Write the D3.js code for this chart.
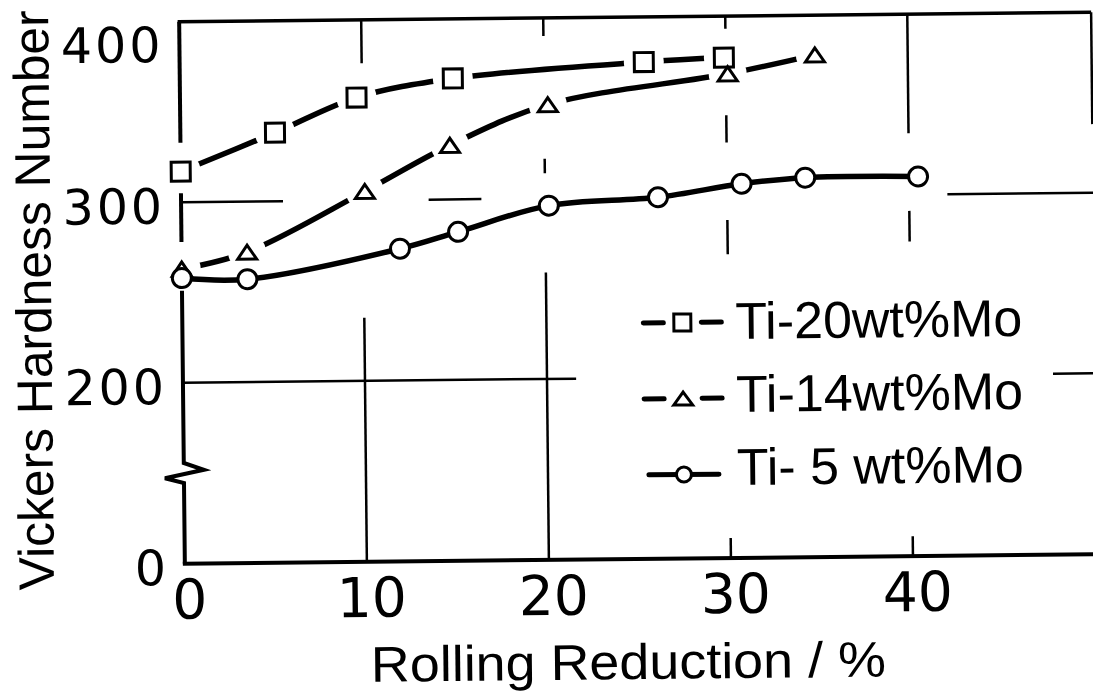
<!DOCTYPE html>
<html><head><meta charset="utf-8">
<script src="https://cdn.jsdelivr.net/npm/d3@7"></script>
<style>body{margin:0;background:#fff} svg{display:block}</style>
</head><body><svg id="c" width="1093" height="693"></svg>
<script>
// ---- data ----
const ti20X = [0, 5.2, 9.7, 15.0, 25.5, 29.9];
const ti20Y = [317, 338, 357, 367, 375, 377];
const ti14X = [0, 3.6, 10.1, 14.8, 20.2, 30.1, 34.9];
const ti14Y = [263, 272, 305, 330, 352, 368, 378];
const ti5X  = [0, 3.6, 12.0, 15.2, 20.2, 26.2, 30.8, 34.3, 40.5];
const ti5Y  = [258, 257, 273, 282, 296, 300, 307, 310, 310];
const seriesNames = ["Ti-20wt%Mo", "Ti-14wt%Mo", "Ti- 5 wt%Mo"];
const xTicks = [0, 10, 20, 30, 40];
const yTicks = [0, 200, 300, 400];
const xTitle = "Rolling Reduction / %";
const yTitle = "Vickers Hardness Number";
// grid lines as they survive in the figure (partly erased): [yValue, xFrom, xTo]
const hGrid = [[300,0,5.6],[300,13.6,16.5],[300,42.1,50.1],[200,0,21.6],[200,47.8,50.1]];
// [xValue, yFrom, yTo]
const vGrid = [[10,400,376],[10,235,0],[20,400,390],[20,322,314],[20,259,0],
               [30,400,393],[30,345,330],[30,287,268],[30,33,0],
               [40,400,334],[40,291,274],[40,33,0],[50.1,400,338]];
const yAxisSegs = [[400,333],[305,278]];
const yAxisLowTop = 251;
const yBreak = 150;
const xMax = 50.1;

// ---- scales ----
const svg = d3.select("#c");
svg.append("rect").attr("width",1093).attr("height",693).attr("fill","#fff");
const x = d3.scaleLinear().domain([0, xMax]).range([182, 1094]);
const y = d3.scaleLinear().domain([0, yBreak, 400]).range([559, 468.25, 17]);

const g = svg.append("g").attr("transform","rotate(-0.6,636,290)");
const FONT = "'Liberation Sans', Arial, sans-serif";

// grid
g.selectAll(".hg").data(hGrid).join("line")
  .attr("x1",d=>x(d[1])).attr("x2",d=>x(d[2]))
  .attr("y1",d=>y(d[0])).attr("y2",d=>y(d[0]))
  .attr("stroke","#000").attr("stroke-width",2.5);
g.selectAll(".vg").data(vGrid).join("line")
  .attr("x1",d=>x(d[0])).attr("x2",d=>x(d[0]))
  .attr("y1",d=>y(d[1])).attr("y2",d=>y(d[2]))
  .attr("stroke","#000").attr("stroke-width",2.5);

// frame top & bottom axis
g.append("line").attr("x1",x(0)-1.5).attr("x2",x(xMax)).attr("y1",y(400)).attr("y2",y(400))
  .attr("stroke","#000").attr("stroke-width",3.5);
g.append("line").attr("x1",x(0)-2).attr("x2",x(xMax)+2).attr("y1",y(0)).attr("y2",y(0))
  .attr("stroke","#000").attr("stroke-width",4);
// y axis with break
g.selectAll(".ya").data(yAxisSegs).join("line")
  .attr("x1",x(0)).attr("x2",x(0)).attr("y1",d=>y(d[0])).attr("y2",d=>y(d[1]))
  .attr("stroke","#000").attr("stroke-width",4);
const yb = y(yBreak), x0 = x(0);
g.append("path")
  .attr("d",`M${x0},${y(yAxisLowTop)} L${x0},${yb-10} L${x0+20},${yb-3} L${x0-19},${yb+5} L${x0},${yb+10} L${x0},${y(0)}`)
  .attr("fill","none").attr("stroke","#000").attr("stroke-width",4).attr("stroke-linejoin","miter");

// axes labels through d3 axes
const ax = g.append("g").attr("transform",`translate(0,${y(0)})`)
  .call(d3.axisBottom(x).tickValues(xTicks).tickSize(0).tickFormat(d3.format("d")));
ax.select(".domain").remove();
ax.selectAll("text").attr("y",55).attr("dy",0).attr("x",4)
  .attr("font-family","'DejaVu Sans', sans-serif").attr("font-size",55).attr("fill","#000");

const ay = g.append("g").attr("transform",`translate(${x(0)-16},0)`)
  .call(d3.axisLeft(y).tickValues(yTicks).tickSize(0).tickPadding(0).tickFormat(d3.format("d")));
ay.select(".domain").remove();
ay.selectAll("text").attr("x",0).attr("dy","0.36em").attr("y",d=> d===400 ? 22 : 3)
  .attr("font-family","'DejaVu Sans', sans-serif").attr("font-size",49)
  .attr("letter-spacing",3).attr("fill","#000");

// titles
g.append("text").attr("x",367).attr("y",y(0)+120).text(xTitle)
  .attr("font-family",FONT).attr("font-size",50).attr("textLength",515)
  .attr("lengthAdjust","spacingAndGlyphs").attr("fill","#000");
g.append("text").attr("transform","translate(51,294) rotate(-90)").attr("text-anchor","middle")
  .text(yTitle).attr("font-family",FONT).attr("font-size",50).attr("textLength",580)
  .attr("lengthAdjust","spacingAndGlyphs").attr("fill","#000");

// series
const pts = (xs, ys) => xs.map((v,i)=>[v, ys[i]]);
const d20 = pts(ti20X, ti20Y), d14 = pts(ti14X, ti14Y), d5 = pts(ti5X, ti5Y);
const line = d3.line().x(d=>x(d[0])).y(d=>y(d[1])).curve(d3.curveCatmullRom.alpha(0.5));

const defs = svg.append("defs");
function mask(id, data, r){
  const m = defs.append("mask").attr("id",id).attr("maskUnits","userSpaceOnUse")
    .attr("x",-100).attr("y",-100).attr("width",1300).attr("height",900);
  m.append("rect").attr("x",-100).attr("y",-100).attr("width",1300).attr("height",900).attr("fill","#fff");
  m.selectAll("circle").data(data).join("circle").attr("cx",d=>x(d[0])).attr("cy",d=>y(d[1])).attr("r",r).attr("fill","#000");
}
mask("m20", d20, 20);
mask("m14", d14, 19);

g.append("path").attr("d",line(d20)).attr("fill","none").attr("stroke","#000")
  .attr("stroke-width",5.5).attr("stroke-linecap","round").attr("mask","url(#m20)");
g.append("path").attr("d",line(d14)).attr("fill","none").attr("stroke","#000")
  .attr("stroke-width",5.5).attr("stroke-linecap","round").attr("mask","url(#m14)");
g.append("path").attr("d",line(d5)).attr("fill","none").attr("stroke","#000")
  .attr("stroke-width",5.5);

const sq = s => `M${-s/2},${-s/2}h${s}v${s}h${-s}Z`;
const tri = (w,h) => `M${-w/2},${h/2}L${w/2},${h/2}L0,${-h/2}Z`;

g.selectAll(".m20").data(d20).join("path").attr("d",sq(19))
  .attr("transform",d=>`translate(${x(d[0])},${y(d[1])})`)
  .attr("fill","#fff").attr("stroke","#000").attr("stroke-width",3);
g.selectAll(".m14").data(d14).join("path").attr("d",tri(19,14))
  .attr("transform",d=>`translate(${x(d[0])},${y(d[1])})`)
  .attr("fill","#fff").attr("stroke","#000").attr("stroke-width",3).attr("stroke-linejoin","miter");
g.selectAll(".m5").data(d5).join("circle").attr("r",9.5)
  .attr("cx",d=>x(d[0])).attr("cy",d=>y(d[1]))
  .attr("fill","#fff").attr("stroke","#000").attr("stroke-width",3);

// legend
const lg = g.append("g");
const sx = 682;
seriesNames.forEach((name,i)=>{
  const cy = 323 + i*76;
  const by = 340 + i*73;
  if(i<2){
    [[sx-39,sx-19],[sx+19,sx+39]].forEach(s=>lg.append("line").attr("x1",s[0]).attr("x2",s[1])
      .attr("y1",cy).attr("y2",cy).attr("stroke","#000").attr("stroke-width",5).attr("stroke-linecap","round"));
  } else {
    lg.append("line").attr("x1",sx-35).attr("x2",sx+35).attr("y1",cy).attr("y2",cy)
      .attr("stroke","#000").attr("stroke-width",5).attr("stroke-linecap","round");
  }
  if(i===0) lg.append("path").attr("d",sq(17)).attr("transform",`translate(${sx},${cy})`)
      .attr("fill","#fff").attr("stroke","#000").attr("stroke-width",3);
  if(i===1) lg.append("path").attr("d",tri(19,13)).attr("transform",`translate(${sx},${cy})`)
      .attr("fill","#fff").attr("stroke","#000").attr("stroke-width",3);
  if(i===2) lg.append("circle").attr("r",7.5).attr("cx",sx).attr("cy",cy)
      .attr("fill","#fff").attr("stroke","#000").attr("stroke-width",3);
  lg.append("text").attr("x",735).attr("y",by).text(name)
    .attr("font-family",FONT).attr("font-size",52).attr("textLength",287)
    .attr("lengthAdjust","spacingAndGlyphs").attr("fill","#000");
});
</script></body></html>
